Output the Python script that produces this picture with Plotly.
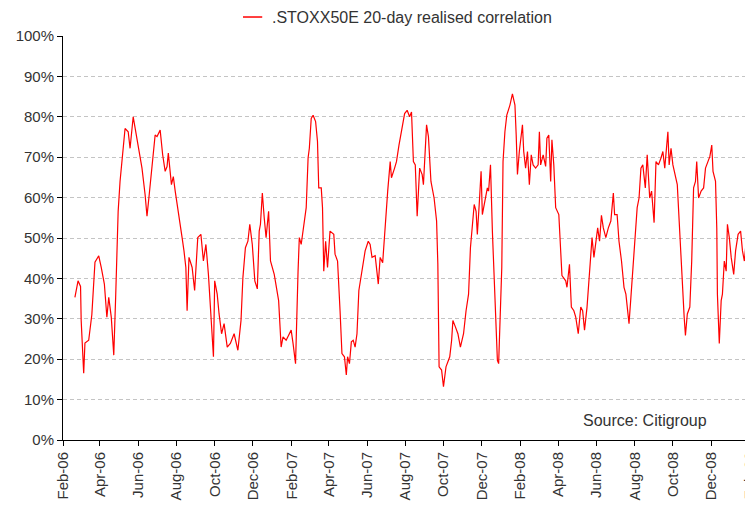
import plotly.graph_objects as go

# --- Data ---
series_name = ".STOXX50E 20-day realised correlation"
source_text = "Source: Citigroup"

dates = [
    "2006-02-20", "2006-02-25", "2006-03-01", "2006-03-02", "2006-03-06", "2006-03-08", "2006-03-14", "2006-03-19",
    "2006-03-24", "2006-03-30", "2006-04-03", "2006-04-08", "2006-04-12", "2006-04-15", "2006-04-19", "2006-04-23",
    "2006-04-26", "2006-04-30", "2006-05-03", "2006-05-07", "2006-05-11", "2006-05-16", "2006-05-19", "2006-05-24",
    "2006-05-28", "2006-06-02", "2006-06-07", "2006-06-12", "2006-06-15", "2006-06-18", "2006-06-23", "2006-06-28",
    "2006-07-01", "2006-07-06", "2006-07-10", "2006-07-14", "2006-07-17", "2006-07-19", "2006-07-24", "2006-07-27",
    "2006-07-30", "2006-08-05", "2006-08-10", "2006-08-13", "2006-08-16", "2006-08-18", "2006-08-21", "2006-08-26",
    "2006-08-30", "2006-09-04", "2006-09-09", "2006-09-13", "2006-09-17", "2006-09-21", "2006-09-25", "2006-09-29",
    "2006-10-01", "2006-10-05", "2006-10-08", "2006-10-12", "2006-10-16", "2006-10-21", "2006-10-26", "2006-11-01",
    "2006-11-07", "2006-11-12", "2006-11-15", "2006-11-19", "2006-11-23", "2006-11-26", "2006-11-30", "2006-12-04",
    "2006-12-08", "2006-12-11", "2006-12-13", "2006-12-16", "2006-12-19", "2006-12-22", "2006-12-26", "2006-12-29",
    "2007-01-04", "2007-01-07", "2007-01-11", "2007-01-15", "2007-01-18", "2007-01-23", "2007-01-27", "2007-01-31",
    "2007-02-03", "2007-02-07", "2007-02-11", "2007-02-13", "2007-02-16", "2007-02-20", "2007-02-24", "2007-02-27",
    "2007-03-01", "2007-03-04", "2007-03-07", "2007-03-11", "2007-03-14", "2007-03-16", "2007-03-20", "2007-03-22",
    "2007-03-24", "2007-03-27", "2007-03-30", "2007-04-03", "2007-04-09", "2007-04-11", "2007-04-15", "2007-04-19",
    "2007-04-22", "2007-04-26", "2007-04-29", "2007-05-01", "2007-05-04", "2007-05-07", "2007-05-10", "2007-05-13",
    "2007-05-16", "2007-05-19", "2007-05-24", "2007-05-29", "2007-06-03", "2007-06-06", "2007-06-09", "2007-06-14",
    "2007-06-19", "2007-06-22", "2007-06-26", "2007-06-30", "2007-07-04", "2007-07-08", "2007-07-10", "2007-07-15",
    "2007-07-18", "2007-07-22", "2007-07-26", "2007-07-31", "2007-08-04", "2007-08-08", "2007-08-11", "2007-08-14",
    "2007-08-17", "2007-08-20", "2007-08-24", "2007-08-28", "2007-08-30", "2007-09-04", "2007-09-07", "2007-09-11",
    "2007-09-16", "2007-09-20", "2007-09-22", "2007-09-24", "2007-09-28", "2007-10-01", "2007-10-05", "2007-10-11",
    "2007-10-14", "2007-10-16", "2007-10-20", "2007-10-24", "2007-10-28", "2007-11-02", "2007-11-06", "2007-11-10",
    "2007-11-13", "2007-11-16", "2007-11-19", "2007-11-22", "2007-11-24", "2007-11-27", "2007-11-30", "2007-12-02",
    "2007-12-06", "2007-12-10", "2007-12-12", "2007-12-15", "2007-12-18", "2007-12-20", "2007-12-23", "2007-12-26",
    "2007-12-28", "2007-12-30", "2008-01-02", "2008-01-04", "2008-01-07", "2008-01-10", "2008-01-15", "2008-01-19",
    "2008-01-23", "2008-01-25", "2008-01-27", "2008-01-30", "2008-02-04", "2008-02-06", "2008-02-09", "2008-02-12",
    "2008-02-15", "2008-02-18", "2008-02-21", "2008-02-25", "2008-02-29", "2008-03-02", "2008-03-04", "2008-03-08",
    "2008-03-12", "2008-03-14", "2008-03-17", "2008-03-20", "2008-03-22", "2008-03-25", "2008-03-28", "2008-04-02",
    "2008-04-05", "2008-04-07", "2008-04-13", "2008-04-15", "2008-04-19", "2008-04-22", "2008-04-26", "2008-04-29",
    "2008-05-03", "2008-05-07", "2008-05-10", "2008-05-13", "2008-05-17", "2008-05-21", "2008-05-25", "2008-05-28",
    "2008-06-03", "2008-06-06", "2008-06-09", "2008-06-12", "2008-06-16", "2008-06-20", "2008-06-24", "2008-06-28",
    "2008-06-30", "2008-07-04", "2008-07-07", "2008-07-11", "2008-07-15", "2008-07-18", "2008-07-23", "2008-07-26",
    "2008-07-29", "2008-08-01", "2008-08-05", "2008-08-08", "2008-08-11", "2008-08-14", "2008-08-18", "2008-08-21",
    "2008-08-25", "2008-08-28", "2008-09-01", "2008-09-04", "2008-09-08", "2008-09-12", "2008-09-15", "2008-09-18",
    "2008-09-21", "2008-09-23", "2008-09-25", "2008-09-28", "2008-10-01", "2008-10-05", "2008-10-08", "2008-10-11",
    "2008-10-14", "2008-10-16", "2008-10-19", "2008-10-21", "2008-10-24", "2008-10-28", "2008-10-31", "2008-11-03",
    "2008-11-06", "2008-11-08", "2008-11-11", "2008-11-15", "2008-11-19", "2008-11-22", "2008-11-26", "2008-11-29",
    "2008-12-02", "2008-12-04", "2008-12-08", "2008-12-10", "2008-12-11", "2008-12-14", "2008-12-17", "2008-12-19",
    "2008-12-22", "2008-12-25", "2008-12-27", "2008-12-30", "2009-01-02", "2009-01-06", "2009-01-09", "2009-01-13",
    "2009-01-17", "2009-01-20", "2009-01-23", "2009-01-27", "2009-01-30", "2009-01-31",
]

correlation_pct = [
    35.3, 39.4, 38.0, 29.6, 16.5, 24.0, 24.7, 31.0,
    44.0, 45.6, 42.7, 38.6, 30.4, 35.3, 30.4, 21.0,
    35.3, 56.6, 64.0, 71.4, 77.1, 76.3, 72.2, 80.0,
    76.3, 71.4, 67.3, 60.7, 55.4, 59.9, 67.3, 75.5,
    75.1, 76.7, 70.6, 66.5, 67.7, 71.0, 63.2, 65.2,
    61.6, 55.8, 50.1, 46.8, 42.7, 32.0, 45.2, 42.7,
    37.0, 50.1, 50.9, 44.3, 48.4, 41.0, 31.2, 20.6,
    39.4, 36.1, 31.2, 26.3, 28.8, 23.0, 23.9, 26.3,
    22.2, 29.6, 40.2, 47.6, 49.2, 53.4, 48.4, 39.4,
    37.4, 51.7, 53.4, 61.1, 55.0, 50.1, 56.6, 44.3,
    41.0, 38.6, 34.5, 23.0, 25.5, 24.7, 25.9, 27.2,
    23.9, 18.9, 41.8, 50.1, 48.4, 52.5, 57.5, 69.8,
    72.2, 79.6, 80.4, 78.8, 73.9, 62.4, 62.4, 57.5,
    41.8, 49.2, 42.7, 51.7, 50.9, 46.0, 44.3, 32.0,
    21.4, 20.6, 16.1, 20.6, 18.9, 24.3, 24.7, 23.0,
    26.3, 37.0, 41.8, 46.8, 49.2, 48.4, 45.2, 45.6,
    38.6, 45.2, 43.9, 54.2, 61.6, 68.9, 64.9, 67.3,
    68.9, 73.0, 76.3, 80.8, 81.6, 80.0, 81.2, 68.9,
    68.1, 55.4, 67.3, 65.7, 63.2, 78.0, 75.1, 64.0,
    59.9, 54.2, 43.5, 18.1, 17.3, 13.2, 18.1, 20.6,
    24.7, 29.6, 28.0, 26.3, 23.0, 26.3, 32.0, 36.1,
    47.6, 52.5, 58.3, 56.6, 50.9, 58.3, 66.5, 55.8,
    59.1, 62.4, 61.6, 68.1, 51.7, 42.7, 31.2, 19.7,
    18.9, 29.6, 42.7, 68.9, 76.3, 80.4, 82.9, 85.7,
    82.9, 75.5, 65.7, 71.4, 78.0, 71.4, 67.3, 71.4,
    63.2, 70.6, 68.1, 67.3, 68.1, 76.3, 68.1, 70.6,
    67.7, 74.7, 75.5, 64.0, 74.3, 68.1, 57.5, 55.8,
    47.6, 40.7, 39.4, 37.8, 43.5, 32.9, 32.0, 30.4,
    26.3, 32.9, 32.0, 27.2, 32.9, 42.7, 50.1, 45.2,
    52.5, 49.2, 55.6, 52.5, 50.1, 52.5, 54.2, 61.1,
    55.8, 55.8, 49.2, 44.3, 37.8, 36.1, 28.8, 35.3,
    42.7, 49.2, 57.5, 59.9, 67.3, 68.1, 62.4, 70.6,
    59.9, 61.6, 53.8, 68.9, 68.1, 69.8, 71.4, 67.3,
    73.0, 76.3, 68.1, 72.2, 68.1, 64.9, 63.2, 54.2,
    44.3, 37.8, 30.4, 25.9, 31.2, 32.9, 44.3, 62.4,
    64.0, 68.9, 59.9, 61.6, 62.4, 67.3, 68.9, 70.2,
    73.0, 66.5, 64.0, 52.5, 36.1, 23.9, 34.5, 36.1,
    44.3, 41.8, 53.4, 50.1, 45.2, 41.0, 46.8, 50.9,
    51.7, 46.8, 44.3, 50.9, 51.7, 52.1,
]

y_ticks = [0, 10, 20, 30, 40, 50, 60, 70, 80, 90, 100]
y_tick_labels = ["0%", "10%", "20%", "30%", "40%", "50%", "60%", "70%", "80%", "90%", "100%"]
x_ticks = ["2006-02-01", "2006-04-01", "2006-06-01", "2006-08-01", "2006-10-01", "2006-12-01",
           "2007-02-01", "2007-04-01", "2007-06-01", "2007-08-01", "2007-10-01", "2007-12-01",
           "2008-02-01", "2008-04-01", "2008-06-01", "2008-08-01", "2008-10-01", "2008-12-01",
           "2009-02-01"]
x_tick_labels = ["Feb-06", "Apr-06", "Jun-06", "Aug-06", "Oct-06", "Dec-06",
                 "Feb-07", "Apr-07", "Jun-07", "Aug-07", "Oct-07", "Dec-07",
                 "Feb-08", "Apr-08", "Jun-08", "Aug-08", "Oct-08", "Dec-08",
                 "Feb-09"]

FONT = "Liberation Sans, Arial, sans-serif"
TXT = "#333333"
RED = "#ff0000"

fig = go.Figure()
fig.add_trace(go.Scatter(
    x=dates, y=correlation_pct, mode="lines", name=series_name,
    line=dict(color=RED, width=1.2), showlegend=False,
))

# The page body adds an 8px offset, so the margins are shifted to compensate.
fig.update_layout(
    width=753, height=508,
    margin=dict(l=55, r=11, t=28, b=76, autoexpand=False),
    paper_bgcolor="white", plot_bgcolor="white",
    font=dict(family=FONT, size=15, color=TXT),
    showlegend=False,
    xaxis=dict(
        type="date", range=["2006-02-01", "2009-02-01"], automargin=False,
        tickmode="array", tickvals=x_ticks, ticktext=x_tick_labels,
        tickangle=-90, ticks="outside", ticklen=5, tickcolor="black",
        ticklabeloverflow="allow",
        showline=True, linecolor="black", linewidth=1,
        showgrid=False, zeroline=False,
        tickfont=dict(family=FONT, size=15, color=TXT),
    ),
    yaxis=dict(
        range=[0, 100], tickmode="array", tickvals=y_ticks, ticktext=y_tick_labels,
        automargin=False,
        ticks="outside", ticklen=5, tickcolor="black",
        showline=True, linecolor="black", linewidth=1,
        showgrid=True, gridcolor="#c4c4c4", griddash="4px,3px", gridwidth=1,
        zeroline=False,
        tickfont=dict(family=FONT, size=15, color=TXT),
    ),
    shapes=[dict(
        type="line", xref="paper", yref="paper",
        x0=0.262, x1=0.290, y0=1.047, y1=1.047,
        line=dict(color=RED, width=1.5),
    )],
    annotations=[
        dict(
            text=series_name, xref="paper", yref="paper",
            x=0.302, y=1.047, xanchor="left", yanchor="middle",
            showarrow=False, font=dict(family=FONT, size=16, color=TXT),
        ),
        dict(
            text=source_text, xref="paper", yref="paper",
            x=0.940, y=0.048, xanchor="right", yanchor="middle",
            showarrow=False, font=dict(family=FONT, size=16, color=TXT),
        ),
    ],
)

fig.write_html("out.html")
